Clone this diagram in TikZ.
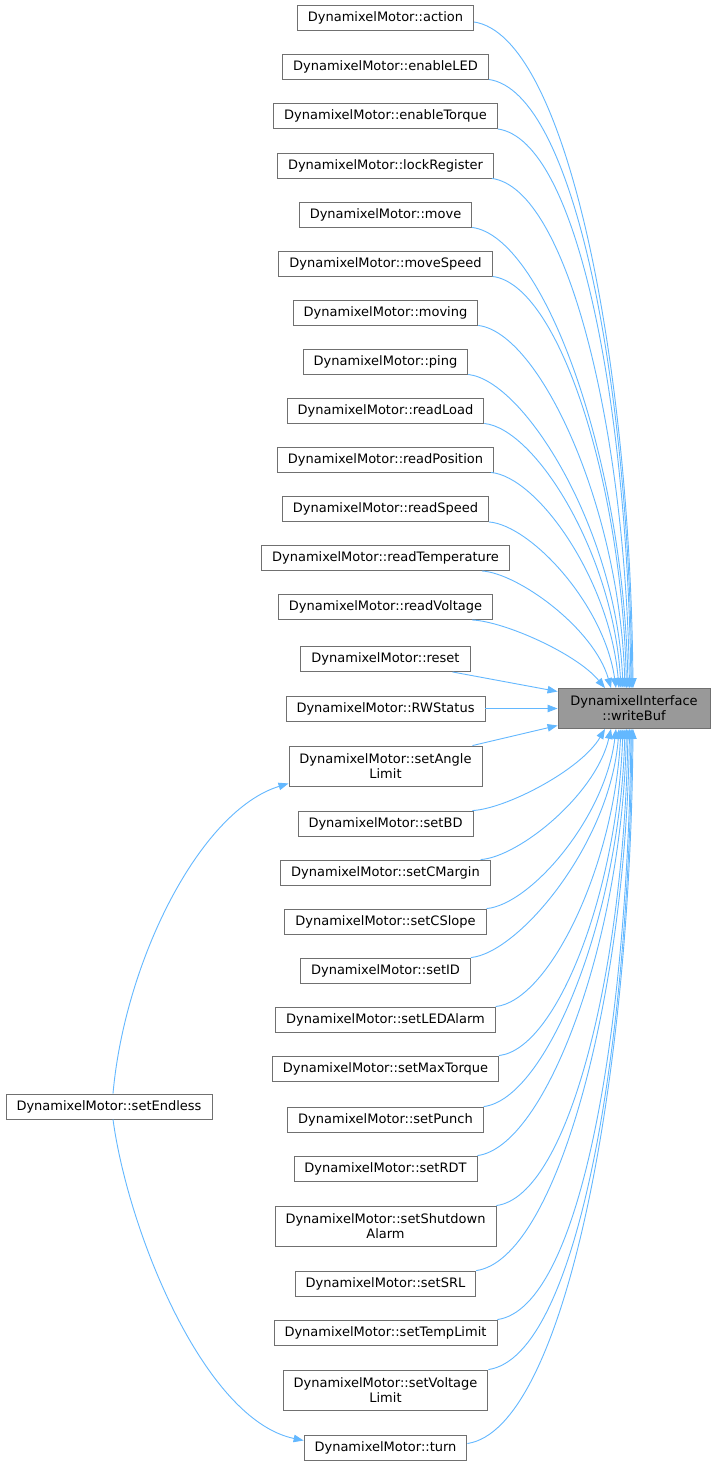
\documentclass[tikz,border=0pt]{standalone}
\usepackage{fontspec}
\setmainfont{DejaVu Sans}
\usetikzlibrary{arrows.meta}
\definecolor{edgeblue}{HTML}{63B8FF}
\definecolor{boxline}{HTML}{707070}
\definecolor{wbfill}{HTML}{999999}
\begin{document}
\begin{tikzpicture}[x=1pt,y=-1pt,
  fn/.style={draw=boxline,line width=0.9pt,fill=white,font=\fontsize{13}{15}\selectfont,
    inner xsep=10.5pt,inner ysep=3pt,minimum height=25pt,align=center},
  two/.style={minimum height=40pt},
  edge/.style={draw=edgeblue,line width=0.9pt,-{Triangle[length=10pt,width=7.5pt]}}]
\fill[white] (0,0) rectangle (715,1465);
\useasboundingbox (0,0) rectangle (715,1465);

\node[fn,two,fill=wbfill,draw=boxline,minimum width=152pt] (wb) at (634,708.5) {DynamixelInterface\\::writeBuf};

\node[fn] (action) at (385.5,17.5) {DynamixelMotor::action};
\node[fn] (enableLED) at (385.5,66.5) {DynamixelMotor::enableLED};
\node[fn] (enableTorque) at (385.5,116) {DynamixelMotor::enableTorque};
\node[fn] (lockRegister) at (385.5,165.5) {DynamixelMotor::lockRegister};
\node[fn] (move) at (385.5,214.5) {DynamixelMotor::move};
\node[fn] (moveSpeed) at (385.5,263.5) {DynamixelMotor::moveSpeed};
\node[fn] (moving) at (385.5,312.5) {DynamixelMotor::moving};
\node[fn] (ping) at (385.5,361.5) {DynamixelMotor::ping};
\node[fn] (readLoad) at (385.5,410.5) {DynamixelMotor::readLoad};
\node[fn] (readPosition) at (385.5,459.5) {DynamixelMotor::readPosition};
\node[fn] (readSpeed) at (385.5,509) {DynamixelMotor::readSpeed};
\node[fn] (readTemperature) at (385.5,558) {DynamixelMotor::readTemperature};
\node[fn] (readVoltage) at (385.5,607) {DynamixelMotor::readVoltage};
\node[fn] (reset) at (385.5,659) {DynamixelMotor::reset};
\node[fn] (RWStatus) at (385.5,708.5) {DynamixelMotor::RWStatus};
\node[fn,two] (setAngleLimit) at (385.5,766) {DynamixelMotor::setAngle\\Limit};
\node[fn] (setBD) at (385.5,823.5) {DynamixelMotor::setBD};
\node[fn] (setCMargin) at (385.5,872.5) {DynamixelMotor::setCMargin};
\node[fn] (setCSlope) at (385.5,921.5) {DynamixelMotor::setCSlope};
\node[fn] (setID) at (385.5,970.5) {DynamixelMotor::setID};
\node[fn] (setLEDAlarm) at (385.5,1019.5) {DynamixelMotor::setLEDAlarm};
\node[fn] (setMaxTorque) at (385.5,1068.5) {DynamixelMotor::setMaxTorque};
\node[fn] (setPunch) at (385.5,1119.5) {DynamixelMotor::setPunch};
\node[fn] (setRDT) at (385.5,1168.5) {DynamixelMotor::setRDT};
\node[fn,two] (setShutdownAlarm) at (385.5,1226) {DynamixelMotor::setShutdown\\Alarm};
\node[fn] (setSRL) at (385.5,1283.5) {DynamixelMotor::setSRL};
\node[fn] (setTempLimit) at (385.5,1332.5) {DynamixelMotor::setTempLimit};
\node[fn,two] (setVoltageLimit) at (385.5,1390) {DynamixelMotor::setVoltage\\Limit};
\node[fn] (turn) at (385.5,1447.5) {DynamixelMotor::turn};
\node[fn] (setEndless) at (109,1106.5) {DynamixelMotor::setEndless};

% edges from upper nodes into top of writeBuf
\foreach \n/\an/\dx/\dy/\sy/\xe in {
  action/east/0/-4.5/22/633,
  enableLED/south east/0/0/79/632,
  enableTorque/south east/0/0/128.5/631,
  lockRegister/south east/-2/0/178/629.5,
  move/south east/0/0/227/628,
  moveSpeed/south east/0/0/276/626.5,
  moving/south east/0/0/325/625,
  ping/south east/0/0/374/623,
  readLoad/south east/0/0/423/621,
  readPosition/south east/-3/0/472/619,
  readSpeed/south east/0/0/521.5/616,
  readTemperature/south east/-28/0/570.5/611,
  readVoltage/south east/-21/0/619.5/605}{
  \pgfmathsetmacro\D{689-\sy}
  \pgfmathsetmacro\ax{25+0.1*\D}
  \pgfmathsetmacro\ay{0.02*\D}
  \pgfmathsetmacro\cx{-min(30,2000/\D)}
  \pgfmathsetmacro\cy{-0.5*\D}
  \pgfmathsetmacro\ex{\xe-634}
  \draw[edge] ([xshift=\dx pt,yshift=\dy pt]\n.\an) .. controls +(\ax,\ay) and +(\cx,\cy) .. ([xshift=\ex pt]wb.north);
}

% edges from lower nodes into bottom of writeBuf
\foreach \n/\an/\dx/\dy/\sy/\xe in {
  setBD/north east/-1/0/811/605,
  setCMargin/north east/-10/0/860/611,
  setCSlope/north east/0/0/909/616,
  setID/north east/0/0/958/619,
  setLEDAlarm/north east/0/0/1007/621,
  setMaxTorque/north east/0/0/1056/623,
  setPunch/north east/0/0/1107/625,
  setRDT/north east/0/0/1156/626.5,
  setShutdownAlarm/north east/0/0/1206/628,
  setSRL/north east/0/0/1271/629.5,
  setTempLimit/north east/0/0/1320/631,
  setVoltageLimit/north east/0/0/1370/632,
  turn/east/0/4/1443.5/633}{
  \pgfmathsetmacro\D{\sy-728.5}
  \pgfmathsetmacro\ax{25+0.1*\D}
  \pgfmathsetmacro\ay{-0.02*\D}
  \pgfmathsetmacro\cx{-min(30,2000/\D)}
  \pgfmathsetmacro\cy{0.5*\D}
  \pgfmathsetmacro\ex{\xe-634}
  \draw[edge] ([xshift=\dx pt,yshift=\dy pt]\n.\an) .. controls +(\ax,\ay) and +(\cx,\cy) .. ([xshift=\ex pt]wb.south);
}

% straight edges into the left side of writeBuf
\draw[edge] ([xshift=-18pt]reset.south east) -- ([yshift=17pt]wb.west);
\draw[edge] (RWStatus.east) -- (wb.west);
\draw[edge] ([xshift=-10pt]setAngleLimit.north east) -- ([yshift=-17pt]wb.west);

% setEndless edges
\draw[edge] ([xshift=4pt]setEndless.north) .. controls +(12,-134) and +(-88,27) .. ([yshift=3pt]setAngleLimit.south west);
\draw[edge] ([xshift=4pt]setEndless.south) .. controls +(15,111) and +(-100,-21) .. ([yshift=7pt]turn.west);
\end{tikzpicture}
\end{document}
